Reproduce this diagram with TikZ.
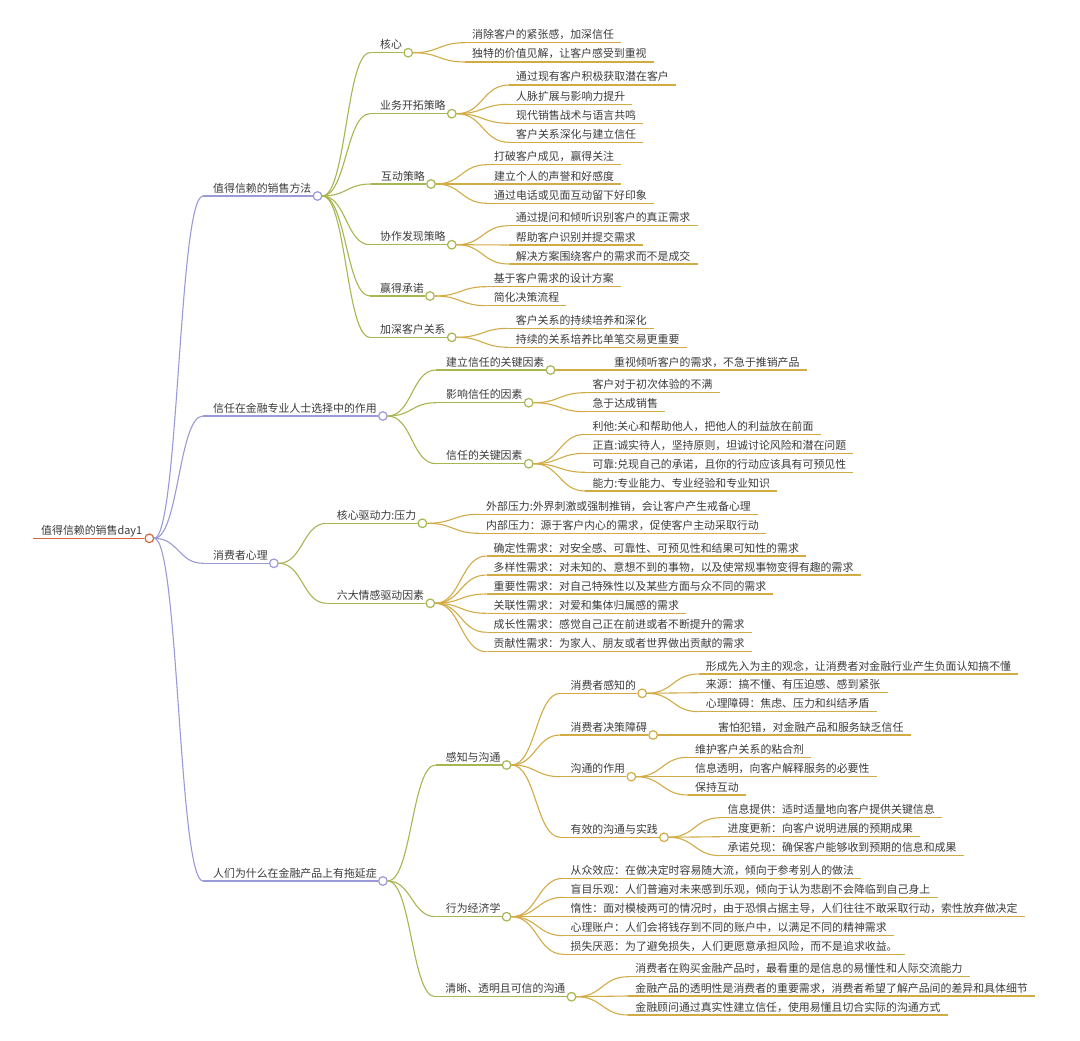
\documentclass[tikz,border=0pt]{standalone}
\usepackage{fontspec}
\newfontfamily\mmfont{Noto Sans CJK SC}
\usetikzlibrary{calc}
\definecolor{cred}{HTML}{D9653B}
\definecolor{clav}{HTML}{9A9AD8}
\definecolor{coli}{HTML}{A7B650}
\definecolor{cgold}{HTML}{D2AB45}
\definecolor{ctxt}{HTML}{3A3A3A}
\tikzset{
  lbl/.style={anchor=base west, inner sep=0pt, font=\mmfont\fontsize{10.9}{12}\selectfont, text=ctxt},
  dot/.style={circle, minimum size=8.6pt, inner sep=0pt, fill=white, line width=1.2pt},
  ln/.style={line width=1.1pt}
}
\newcommand\MMin[5]{%
  \node[lbl] (#1) at (#2,#3-4) {#4};
  \coordinate (#1-s) at (#2-10,#3);
  \node[dot,draw=#5] (#1-c) at ($(#1.base east)+(6,4)$) {};
  \draw[ln,#5] (#1-s) -- (#1-c.west);
}
\newcommand\MMleaf[5]{%
  \node[lbl] (#1) at (#2,#3-4) {#4};
  \coordinate (#1-s) at (#2-7,#3);
  \coordinate (#1-e) at ($(#1.base east)+(7,4)$);
  \draw[ln,#5] (#1-s) -- (#1-e);
}
\newcommand\MMconn[3]{%
  \coordinate (mmtmp) at ($(#1-c.east)!0.5!(#2-s)$);
  \draw[ln,#3] (#1-c.east) .. controls (mmtmp |- #1-c.east) and (mmtmp |- #2-s) .. (#2-s);
}
\begin{document}
\begin{tikzpicture}[x=1pt,y=-1pt]
\useasboundingbox (0,0) rectangle (1080,1041);
% root
\node[lbl] (root) at (41,538.3-4) {值得信赖的销售day1};
\coordinate (root-s) at (33,538.3);
\node[dot,draw=cred] (root-c) at ($(root.base east)+(7,4)$) {};
\draw[ln,cred] (root-s) -- (root-c.west);
% level 1
\MMin{A}{213}{196}{值得信赖的销售方法}{clav}
\MMin{B}{213}{416}{信任在金融专业人士选择中的作用}{clav}
\MMin{C}{213}{563.3}{消费者心理}{clav}
\MMin{D}{213}{881}{人们为什么在金融产品上有拖延症}{clav}
\foreach \n in {A,B,C,D} {\MMconn{root}{\n}{clav}}
% level 2
\MMin{A1}{380}{52.7}{核心}{coli}
\MMin{A2}{380}{113.7}{业务开拓策略}{coli}
\MMin{A3}{381}{184}{互动策略}{coli}
\MMin{A4}{380}{244.7}{协作发现策略}{coli}
\MMin{A5}{380}{296}{赢得承诺}{coli}
\MMin{A6}{380}{337.3}{加深客户关系}{coli}
\foreach \n in {A1,A2,A3,A4,A5,A6} {\MMconn{A}{\n}{coli}}
\MMin{B1}{446}{370}{建立信任的关键因素}{coli}
\MMin{B2}{446}{402.7}{影响信任的因素}{coli}
\MMin{B3}{446}{463.7}{信任的关键因素}{coli}
\foreach \n in {B1,B2,B3} {\MMconn{B}{\n}{coli}}
\MMin{C1}{336.7}{523.3}{核心驱动力:压力}{coli}
\MMin{C2}{336.7}{603.3}{六大情感驱动因素}{coli}
\foreach \n in {C1,C2} {\MMconn{C}{\n}{coli}}
\MMin{D1}{445.7}{765}{感知与沟通}{coli}
\MMin{D2}{445.7}{916.7}{行为经济学}{coli}
\MMin{D3}{445.2}{996.7}{清晰、透明且可信的沟通}{coli}
\foreach \n in {D1,D2,D3} {\MMconn{D}{\n}{coli}}
% level 3 internal under D1
\MMin{D11}{570.4}{693.3}{消费者感知的}{cgold}
\MMin{D12}{570.4}{735}{消费者决策障碍}{cgold}
\MMin{D13}{570.4}{776.7}{沟通的作用}{cgold}
\MMin{D14}{570.4}{837.3}{有效的沟通与实践}{cgold}
\foreach \n in {D11,D12,D13,D14} {\MMconn{D1}{\n}{cgold}}
% leaves A
\MMleaf{A1a}{472}{42.7}{消除客户的紧张感，加深信任}{cgold}
\MMleaf{A1b}{472}{62}{独特的价值见解，让客户感受到重视}{cgold}
\foreach \n in {A1a,A1b} {\MMconn{A1}{\n}{cgold}}
\MMleaf{A2a}{516}{85}{通过现有客户积极获取潜在客户}{cgold}
\MMleaf{A2b}{516}{104.3}{人脉扩展与影响力提升}{cgold}
\MMleaf{A2c}{516}{123.3}{现代销售战术与语言共鸣}{cgold}
\MMleaf{A2d}{516}{142.3}{客户关系深化与建立信任}{cgold}
\foreach \n in {A2a,A2b,A2c,A2d} {\MMconn{A2}{\n}{cgold}}
\MMleaf{A3a}{494}{164.7}{打破客户成见，赢得关注}{cgold}
\MMleaf{A3b}{494}{184}{建立个人的声誉和好感度}{cgold}
\MMleaf{A3c}{494}{203.3}{通过电话或见面互动留下好印象}{cgold}
\foreach \n in {A3a,A3b,A3c} {\MMconn{A3}{\n}{cgold}}
\MMleaf{A4a}{515.7}{225.7}{通过提问和倾听识别客户的真正需求}{cgold}
\MMleaf{A4b}{515.7}{245}{帮助客户识别并提交需求}{cgold}
\MMleaf{A4c}{515.7}{264}{解决方案围绕客户的需求而不是成交}{cgold}
\foreach \n in {A4a,A4b,A4c} {\MMconn{A4}{\n}{cgold}}
\MMleaf{A5a}{493.6}{286.7}{基于客户需求的设计方案}{cgold}
\MMleaf{A5b}{493.6}{305.7}{简化决策流程}{cgold}
\foreach \n in {A5a,A5b} {\MMconn{A5}{\n}{cgold}}
\MMleaf{A6a}{515.7}{328.3}{客户关系的持续培养和深化}{cgold}
\MMleaf{A6b}{515.7}{347.3}{持续的关系培养比单笔交易更重要}{cgold}
\foreach \n in {A6a,A6b} {\MMconn{A6}{\n}{cgold}}
% leaves B
\MMleaf{B1a}{614}{370}{重视倾听客户的需求，不急于推销产品}{cgold}
\MMconn{B1}{B1a}{cgold}
\MMleaf{B2a}{592.3}{392.7}{客户对于初次体验的不满}{cgold}
\MMleaf{B2b}{592.3}{411.7}{急于达成销售}{cgold}
\foreach \n in {B2a,B2b} {\MMconn{B2}{\n}{cgold}}
\MMleaf{B3a}{592.3}{434.3}{利他:关心和帮助他人，把他人的利益放在前面}{cgold}
\MMleaf{B3b}{592.3}{453.3}{正直:诚实待人，坚持原则，坦诚讨论风险和潜在问题}{cgold}
\MMleaf{B3c}{592.3}{472.3}{可靠:兑现自己的承诺，且你的行动应该具有可预见性}{cgold}
\MMleaf{B3d}{592.3}{491}{能力:专业能力、专业经验和专业知识}{cgold}
\foreach \n in {B3a,B3b,B3c,B3d} {\MMconn{B3}{\n}{cgold}}
% leaves C
\MMleaf{C1a}{486}{514.3}{外部压力:外界刺激或强制推销，会让客户产生戒备心理}{cgold}
\MMleaf{C1b}{486}{533.3}{内部压力：源于客户内心的需求，促使客户主动采取行动}{cgold}
\foreach \n in {C1a,C1b} {\MMconn{C1}{\n}{cgold}}
\MMleaf{C2a}{493.5}{556}{确定性需求：对安全感、可靠性、可预见性和结果可知性的需求}{cgold}
\MMleaf{C2b}{493.5}{575}{多样性需求：对未知的、意想不到的事物，以及使常规事物变得有趣的需求}{cgold}
\MMleaf{C2c}{493.5}{594}{重要性需求：对自己特殊性以及某些方面与众不同的需求}{cgold}
\MMleaf{C2d}{493.5}{613.3}{关联性需求：对爱和集体归属感的需求}{cgold}
\MMleaf{C2e}{493.5}{632.3}{成长性需求：感觉自己正在前进或者不断提升的需求}{cgold}
\MMleaf{C2f}{493.5}{651.7}{贡献性需求：为家人、朋友或者世界做出贡献的需求}{cgold}
\foreach \n in {C2a,C2b,C2c,C2d,C2e,C2f} {\MMconn{C2}{\n}{cgold}}
% leaves D1x
\MMleaf{D11a}{705.7}{674}{形成先入为主的观念，让消费者对金融行业产生负面认知搞不懂}{cgold}
\MMleaf{D11b}{705.7}{692.7}{来源：搞不懂、有压迫感、感到紧张}{cgold}
\MMleaf{D11c}{705.7}{711.7}{心理障碍：焦虑、压力和纠结矛盾}{cgold}
\foreach \n in {D11a,D11b,D11c} {\MMconn{D11}{\n}{cgold}}
\MMleaf{D12a}{717.9}{735}{害怕犯错，对金融产品和服务缺乏信任}{cgold}
\MMconn{D12}{D12a}{cgold}
\MMleaf{D13a}{694.9}{757.3}{维护客户关系的粘合剂}{cgold}
\MMleaf{D13b}{694.9}{776.7}{信息透明，向客户解释服务的必要性}{cgold}
\MMleaf{D13c}{694.9}{795}{保持互动}{cgold}
\foreach \n in {D13a,D13b,D13c} {\MMconn{D13}{\n}{cgold}}
\MMleaf{D14a}{727.4}{817.7}{信息提供：适时适量地向客户提供关键信息}{cgold}
\MMleaf{D14b}{727.4}{836.7}{进度更新：向客户说明进展的预期成果}{cgold}
\MMleaf{D14c}{727.4}{855.7}{承诺兑现：确保客户能够收到预期的信息和成果}{cgold}
\foreach \n in {D14a,D14b,D14c} {\MMconn{D14}{\n}{cgold}}
% leaves D2
\MMleaf{D2a}{570.4}{878.3}{从众效应：在做决定时容易随大流，倾向于参考别人的做法}{cgold}
\MMleaf{D2b}{570.4}{897.3}{盲目乐观：人们普遍对未来感到乐观，倾向于认为悲剧不会降临到自己身上}{cgold}
\MMleaf{D2c}{570.4}{916.7}{惰性：面对模棱两可的情况时，由于恐惧占据主导，人们往往不敢采取行动，索性放弃做决定}{cgold}
\MMleaf{D2d}{570.4}{935.7}{心理账户：人们会将钱存到不同的账户中，以满足不同的精神需求}{cgold}
\MMleaf{D2e}{570.4}{954.3}{损失厌恶：为了避免损失，人们更愿意承担风险，而不是追求收益。}{cgold}
\foreach \n in {D2a,D2b,D2c,D2d,D2e} {\MMconn{D2}{\n}{cgold}}
% leaves D3
\MMleaf{D3a}{635.2}{976.7}{消费者在购买金融产品时，最看重的是信息的易懂性和人际交流能力}{cgold}
\MMleaf{D3b}{635.2}{996}{金融产品的透明性是消费者的重要需求，消费者希望了解产品间的差异和具体细节}{cgold}
\MMleaf{D3c}{635.2}{1015}{金融顾问通过真实性建立信任，使用易懂且切合实际的沟通方式}{cgold}
\foreach \n in {D3a,D3b,D3c} {\MMconn{D3}{\n}{cgold}}
\end{tikzpicture}
\end{document}
